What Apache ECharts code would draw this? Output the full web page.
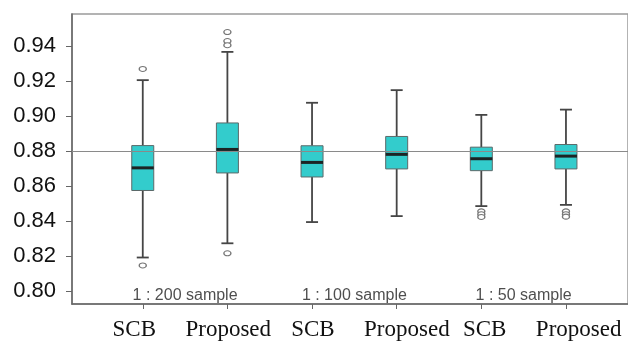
<!DOCTYPE html>
<html>
<head>
<meta charset="utf-8">
<script src="https://cdn.jsdelivr.net/npm/echarts@6/dist/echarts.min.js"></script>
<style>
  html, body { margin: 0; padding: 0; background: #fff; }
  #chart { width: 628px; height: 341px; }
</style>
</head>
<body>
<div id="chart"></div>
<script>
// box statistics, one entry per box (left to right)
var categories = ['SCB', 'Proposed', 'SCB', 'Proposed', 'SCB', 'Proposed'];
var lowWhisker  = [0.8193, 0.8274, 0.8395, 0.8429, 0.8486, 0.8493];
var lowerQuart  = [0.8575, 0.8675, 0.8652, 0.8698, 0.8688, 0.8698];
var medians     = [0.8704, 0.8809, 0.8735, 0.8781, 0.8756, 0.8771];
var upperQuart  = [0.8831, 0.8960, 0.8830, 0.8883, 0.8822, 0.8837];
var highWhisker = [0.9204, 0.9365, 0.9075, 0.9147, 0.9006, 0.9036];

// outliers: [box number, value]
var outliers = [
  [1, 0.9268], [1, 0.8148],
  [2, 0.9478], [2, 0.9427], [2, 0.9403], [2, 0.8217],
  [5, 0.8456], [5, 0.8440], [5, 0.8424],
  [6, 0.8456], [6, 0.8440], [6, 0.8426]
];

var groupLabels = ['1 : 200 sample', '1 : 100 sample', '1 : 50 sample'];
var groupCenters = [1.5, 3.5, 5.5];
var groupLabelY = 0.7975;
var referenceValue = 0.8773;
var yTicks = [0.80, 0.82, 0.84, 0.86, 0.88, 0.90, 0.92, 0.94];
var xTicks = [1, 2, 3, 4, 5, 6];
// the category names under the axis sit a little off their ticks in the original
var xLabelPositions = [0.90, 2.01, 3.01, 4.12, 5.04, 6.15];

var boxData = [];
for (var i = 0; i < categories.length; i++) {
  boxData.push([i + 1, lowWhisker[i], lowerQuart[i], medians[i], upperQuart[i], highWhisker[i]]);
}
var labelData = [];
for (var j = 0; j < groupLabels.length; j++) {
  labelData.push([groupCenters[j], groupLabelY, groupLabels[j]]);
}

var chart = echarts.init(document.getElementById('chart'));

function renderBox(params, api) {
  var x = api.value(0);
  var lo = api.coord([x, api.value(1)]);
  var q1 = api.coord([x, api.value(2)]);
  var md = api.coord([x, api.value(3)]);
  var q3 = api.coord([x, api.value(4)]);
  var hi = api.coord([x, api.value(5)]);
  var cx = lo[0];
  var bw = 22, cw = 12;
  var whisker = { stroke: '#454545', lineWidth: 1.8 };
  return {
    type: 'group',
    children: [
      { type: 'line', shape: { x1: cx, y1: q3[1], x2: cx, y2: hi[1] }, style: whisker },
      { type: 'line', shape: { x1: cx, y1: q1[1], x2: cx, y2: lo[1] }, style: whisker },
      { type: 'line', shape: { x1: cx - cw / 2, y1: hi[1], x2: cx + cw / 2, y2: hi[1] }, style: whisker },
      { type: 'line', shape: { x1: cx - cw / 2, y1: lo[1], x2: cx + cw / 2, y2: lo[1] }, style: whisker },
      { type: 'rect', shape: { x: cx - bw / 2, y: q3[1], width: bw, height: q1[1] - q3[1] },
        style: { fill: '#33CCCC', stroke: '#5c6a6a', lineWidth: 1 } },
      { type: 'line', shape: { x1: cx - bw / 2, y1: md[1], x2: cx + bw / 2, y2: md[1] },
        style: { stroke: '#1c2424', lineWidth: 3 } }
    ]
  };
}

chart.setOption({
  animation: false,
  grid: {
    left: 72, right: -4, top: 14, bottom: 36,
    show: true, borderColor: '#9a9a9a', borderWidth: 1.5
  },
  xAxis: {
    type: 'value',
    min: 0.164,
    max: 6.733,
    splitLine: { show: false },
    axisLine: { show: true, lineStyle: { color: '#666', width: 1.5 } },
    axisTick: { show: true, customValues: xTicks, length: 5, lineStyle: { color: '#666' } },
    axisLabel: {
      customValues: xLabelPositions,
      margin: 14,
      color: '#111',
      fontFamily: 'Liberation Serif',
      fontSize: 23,
      formatter: function (v) { return categories[Math.round(v) - 1] || ''; }
    }
  },
  yAxis: {
    type: 'value',
    min: 0.7928,
    max: 0.9581,
    splitLine: { show: false },
    axisLine: { show: true, lineStyle: { color: '#666', width: 1.5 } },
    axisTick: { show: true, customValues: yTicks, length: 6, lineStyle: { color: '#666' } },
    axisLabel: {
      customValues: yTicks,
      margin: 16,
      color: '#111',
      fontFamily: 'Liberation Sans',
      fontSize: 22,
      formatter: function (v) { return v.toFixed(2); }
    }
  },
  series: [
    {
      type: 'custom',
      renderItem: renderBox,
      data: boxData,
      encode: { x: 0, y: [1, 2, 3, 4, 5] },
      z: 3,
      markLine: {
        silent: true,
        symbol: 'none',
        label: { show: false },
        lineStyle: { color: '#8a8a8a', width: 1, type: 'solid' },
        data: [{ yAxis: referenceValue }]
      }
    },
    {
      type: 'scatter',
      data: outliers,
      symbol: 'circle',
      symbolSize: [7, 5],
      itemStyle: { color: '#ffffff', borderColor: '#777777', borderWidth: 1.2, opacity: 1 },
      z: 4
    },
    {
      type: 'scatter',
      data: labelData,
      symbolSize: 0,
      label: {
        show: true,
        position: 'inside',
        color: '#222',
        fontFamily: 'Liberation Sans',
        fontSize: 16,
        formatter: function (p) { return p.value[2]; }
      }
    }
  ]
});
</script>
</body>
</html>
